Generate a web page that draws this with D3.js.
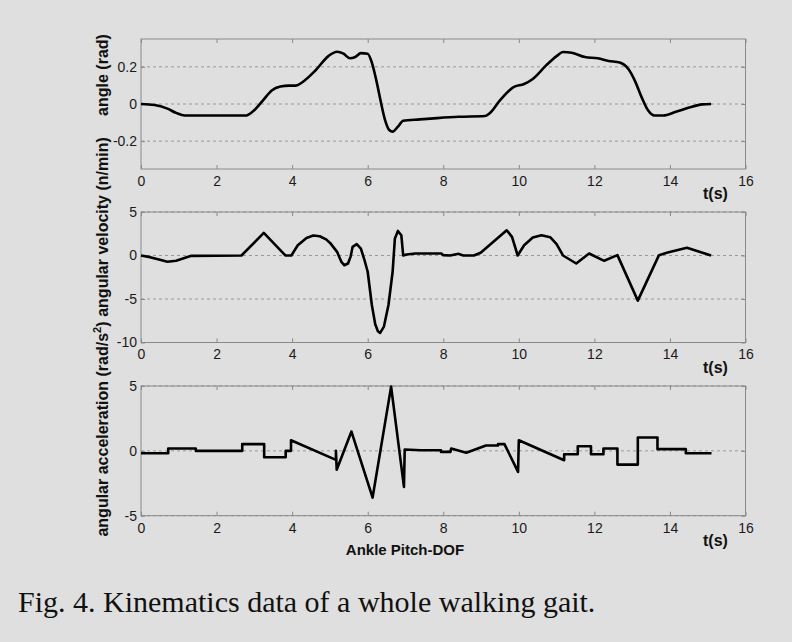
<!DOCTYPE html>
<html>
<head>
<meta charset="utf-8">
<script src="https://cdn.jsdelivr.net/npm/d3@7"></script>
<style>
  body { margin: 0; background: #dfdfdf; }
  svg { display: block; }
</style>
</head>
<body>
<svg id="chart"></svg>
<script>
const width = 792
const height = 642
const plotLeft = 141
const plotRight = 745.5

// x axis ticks (seconds)
const timeTicks = [0, 2, 4, 6, 8, 10, 12, 14, 16]

// angle (rad)
const angleTime = [0, 0.36, 0.7, 0.93, 1.16, 2.77, 2.95, 3.23, 3.46, 3.69, 3.92, 4.1, 4.27, 4.61, 4.96, 5.19, 5.36, 5.53, 5.67, 5.82, 6.0, 6.11, 6.23, 6.34, 6.46, 6.57, 6.66, 6.8, 6.94, 7.38, 7.84, 8.41, 9.1, 9.22, 9.5, 9.85, 10.14, 10.37, 10.71, 11.0, 11.17, 11.4, 11.75, 12.09, 12.38, 12.67, 12.9, 13.07, 13.25, 13.42, 13.59, 13.82, 14.16, 14.51, 14.86, 15.09]
const angleValue = [0, -0.005, -0.025, -0.048, -0.062, -0.062, -0.042, 0.02, 0.073, 0.094, 0.099, 0.099, 0.117, 0.179, 0.258, 0.281, 0.271, 0.246, 0.253, 0.274, 0.271, 0.223, 0.126, 0.019, -0.087, -0.14, -0.149, -0.122, -0.09, -0.083, -0.076, -0.069, -0.065, -0.051, 0.019, 0.09, 0.108, 0.135, 0.205, 0.258, 0.28, 0.276, 0.253, 0.246, 0.232, 0.223, 0.188, 0.126, 0.037, -0.034, -0.062, -0.062, -0.042, -0.019, -0.002, 0]
const angleTicks = [-0.2, 0, 0.2]

// angular velocity
const velocityTime = [0, 0.24, 0.5, 0.7, 0.93, 1.15, 1.33, 2.66, 3.25, 3.82, 3.98, 4.15, 4.38, 4.56, 4.73, 4.9, 5.02, 5.19, 5.3, 5.38, 5.48, 5.55, 5.6, 5.71, 5.82, 5.92, 6.0, 6.11, 6.2, 6.27, 6.33, 6.43, 6.55, 6.66, 6.72, 6.8, 6.89, 6.94, 7.03, 7.26, 7.95, 8.0, 8.18, 8.41, 8.53, 8.81, 8.99, 9.68, 9.82, 9.97, 10.14, 10.37, 10.6, 10.83, 11.0, 11.17, 11.52, 11.86, 12.26, 12.61, 13.15, 13.71, 13.94, 14.45, 15.09]
const velocityValue = [0, -0.19, -0.5, -0.72, -0.6, -0.3, -0.04, 0, 2.6, 0.02, 0, 1.18, 2.02, 2.29, 2.21, 1.85, 1.37, 0.42, -0.7, -1.12, -0.92, -0.1, 0.99, 1.3, 0.8, -0.6, -1.87, -5.69, -7.9, -8.7, -8.9, -8.17, -5.69, -1.87, 1.95, 2.82, 2.33, 0, 0.11, 0.23, 0.23, 0.04, 0, 0.19, 0, 0, 0.31, 2.9, 2.14, 0, 1.18, 2.06, 2.33, 2.1, 1.3, 0, -0.92, 0.23, -0.61, 0.04, -5.19, 0.04, 0.34, 0.88, 0]
const velocityTicks = [-10, -5, 0, 5]

// angular acceleration
const accelTime = [0, 0.72, 0.72, 1.45, 1.45, 2.68, 2.68, 3.26, 3.26, 3.83, 3.83, 3.97, 3.97, 5.16, 5.16, 5.18, 5.57, 6.13, 6.62, 6.96, 6.98, 7.4, 7.94, 7.94, 8.19, 8.21, 8.61, 9.13, 9.45, 9.45, 9.62, 9.98, 10.0, 11.2, 11.2, 11.56, 11.56, 11.91, 11.91, 12.24, 12.24, 12.61, 12.61, 13.15, 13.15, 13.67, 13.67, 14.42, 14.42, 15.1]
const accelValue = [-0.18, -0.18, 0.18, 0.18, 0, 0, 0.52, 0.52, -0.49, -0.49, 0, 0, 0.82, -0.7, 0, -1.45, 1.49, -3.6, 4.95, -2.78, 0.1, 0.05, 0.05, -0.08, -0.08, 0.18, -0.15, 0.41, 0.41, 0.52, 0.52, -1.62, 0.82, -0.72, -0.26, -0.26, 0.36, 0.36, -0.26, -0.26, 0.18, 0.18, -1.06, -1.06, 1.03, 1.03, 0.13, 0.13, -0.18, -0.18]
const accelTicks = [-5, 0, 5]

const panels = [
    { time: angleTime, value: angleValue, ticks: angleTicks, domain: [-0.35, 0.35], top: 39, bottom: 169, smooth: true },
    { time: velocityTime, value: velocityValue, ticks: velocityTicks, domain: [-10, 5], top: 212, bottom: 342.5, smooth: false },
    { time: accelTime, value: accelValue, ticks: accelTicks, domain: [-5, 5], top: 386, bottom: 515.7, smooth: false },
]

const svg = d3.select('#chart').attr('width', width).attr('height', height)
svg.append('rect').attr('width', width).attr('height', height).attr('fill', '#dfdfdf')

const xScale = d3.scaleLinear().domain([0, 16]).range([plotLeft, plotRight])

panels.forEach(p => {
    const yScale = d3.scaleLinear().domain(p.domain).range([p.bottom, p.top])
    const g = svg.append('g')

    // dashed y grid
    g.selectAll('line.grid')
        .data(p.ticks)
        .enter()
        .append('line')
        .attr('x1', plotLeft)
        .attr('x2', plotRight)
        .attr('y1', d => yScale(d))
        .attr('y2', d => yScale(d))
        .attr('stroke', '#999')
        .attr('stroke-width', 1)
        .attr('stroke-dasharray', '3,3')

    const xAxisD3 = d3.axisBottom(xScale).tickValues(timeTicks).tickSizeInner(-4).tickSizeOuter(0).tickPadding(7)
    const xTopD3 = d3.axisTop(xScale).tickValues(timeTicks).tickSizeInner(-4).tickSizeOuter(0).tickFormat('')
    const yAxisD3 = d3.axisLeft(yScale).tickValues(p.ticks).tickSizeInner(-4).tickSizeOuter(0).tickPadding(4).tickFormat(d => d)
    const yRightD3 = d3.axisRight(yScale).tickValues(p.ticks).tickSizeInner(-4).tickSizeOuter(0).tickFormat('')

    const axes = [
        g.append('g').attr('transform', `translate(0, ${p.bottom})`).call(xAxisD3),
        g.append('g').attr('transform', `translate(0, ${p.top})`).call(xTopD3),
        g.append('g').attr('transform', `translate(${plotLeft}, 0)`).call(yAxisD3),
        g.append('g').attr('transform', `translate(${plotRight}, 0)`).call(yRightD3),
    ]
    axes.forEach(a => {
        a.select('.domain').remove()
        a.selectAll('.tick line').attr('stroke', '#888')
        a.selectAll('.tick text')
            .attr('fill', '#1a1a1a')
            .style('font-family', 'Liberation Sans, Arial, sans-serif')
            .style('font-size', '14px')
    })

    g.append('rect')
        .attr('x', plotLeft)
        .attr('y', p.top)
        .attr('width', plotRight - plotLeft)
        .attr('height', p.bottom - p.top)
        .attr('fill', 'none')
        .attr('stroke', '#8a8a8a')
        .attr('stroke-width', 1)

    const line = d3
        .line()
        .x((d, i) => xScale(p.time[i]))
        .y(d => yScale(d))
        .curve(p.smooth ? d3.curveMonotoneX : d3.curveLinear)

    g.append('path')
        .attr('d', line(p.value))
        .attr('fill', 'none')
        .attr('stroke', '#000')
        .attr('stroke-width', 2.6)
        .attr('stroke-linejoin', 'round')

    g.append('text')
        .attr('x', 703)
        .attr('y', p.bottom + 30)
        .attr('font-family', 'Liberation Sans, Arial, sans-serif')
        .attr('font-weight', 'bold')
        .attr('font-size', '16px')
        .attr('fill', '#111')
        .text('t(s)')
})

// rotated y labels
const labelFont = 'Liberation Sans, Arial, sans-serif'
function yLabel(cy) {
    return svg.append('text')
        .attr('transform', `translate(108, ${cy}) rotate(-90)`)
        .attr('text-anchor', 'middle')
        .attr('font-family', labelFont)
        .attr('font-weight', 'bold')
        .attr('font-size', '16px')
        .attr('fill', '#111')
}
yLabel(75).text('angle (rad)')
yLabel(227).text('angular velocity (n/min)')
const acc = yLabel(429)
acc.append('tspan').text('angular acceleration (rad/s')
acc.append('tspan').attr('dy', -7).attr('font-size', '11px').text('2')
acc.append('tspan').attr('dy', 7).text(')')

svg.append('text')
    .attr('x', 405)
    .attr('y', 555)
    .attr('text-anchor', 'middle')
    .attr('font-family', labelFont)
    .attr('font-weight', 'bold')
    .attr('font-size', '15px')
    .attr('fill', '#111')
    .text('Ankle Pitch-DOF')

svg.append('text')
    .attr('x', 18)
    .attr('y', 612)
    .attr('font-family', 'Liberation Serif, Times New Roman, serif')
    .attr('font-size', '30px')
    .attr('fill', '#111')
    .text('Fig. 4. Kinematics data of a whole walking gait.')
</script>
</body>
</html>
